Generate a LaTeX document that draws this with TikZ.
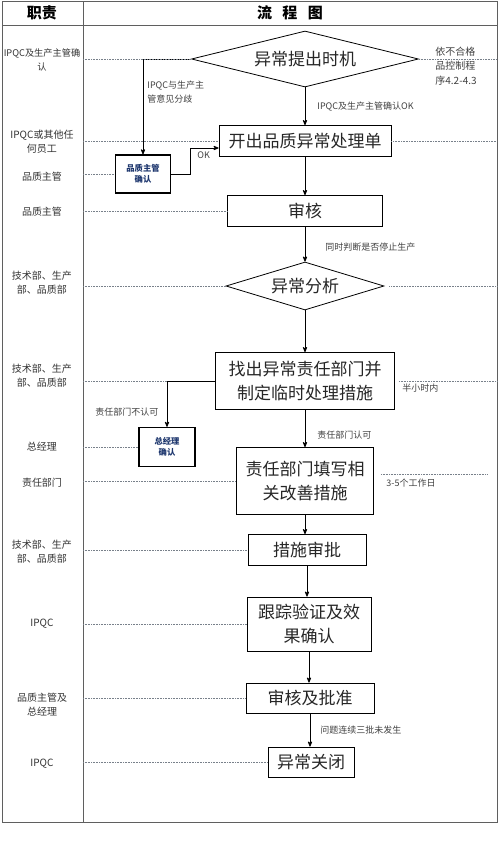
\documentclass[tikz,border=0pt]{standalone}
\usepackage{fontspec}
\setmainfont{Noto Sans CJK SC}
\usepackage{tikz}
\usetikzlibrary{arrows,shapes.geometric}
\definecolor{boxblue}{RGB}{30,55,110}
\definecolor{framegray}{RGB}{95,95,95}
\definecolor{dotgray}{RGB}{120,128,138}

\begin{document}
\begin{tikzpicture}[->,>=stealth',x=1pt,y=-1pt,line width=0.8pt,
  main node/.style={draw,rectangle,inner sep=0pt,align=center,text=black!85,font=\fontsize{17}{24}\selectfont},
  choice node/.style={draw,diamond,aspect=4,inner sep=0pt,text=black!85,font=\fontsize{17}{24}\selectfont},
  check node/.style={draw,rectangle,line width=1.3pt,minimum width=55pt,minimum height=38pt,align=center,text=boxblue,font=\fontsize{8.3}{11}\selectfont\bfseries},
  duty node/.style={align=center,text=black!80,font=\fontsize{10}{14}\selectfont},
  row line/.style={-,densely dotted,dotgray,line width=0.6pt}]
  \tikzset{LabelStyle/.style = {anchor=west,align=left,inner sep=0pt,text=black!75,font=\fontsize{9}{14}\selectfont}}

  \useasboundingbox (0,0) rectangle (500,860);
  \draw[-,framegray] (2,1) rectangle (497,822);
  \draw[-,framegray] (2,25) -- (497,25);
  \draw[-,framegray] (83,1) -- (83,822);
  \coordinate (col) at (83,0);
  \coordinate (rim) at (497,0);

  % header
  \node[font=\fontsize{15}{15}\selectfont\bfseries] (h1) at (42,13) {职责};
  \node[font=\fontsize{15}{15}\selectfont\bfseries] (h2) at (290,13) {流\hspace{0.7em}程\hspace{0.7em}图};

  % duties
  \node[duty node,font=\fontsize{9.2}{14}\selectfont] (r1) at (42,60) {IPQC及生产主管确\\认};
  \node[duty node] (r2) at (42,142) {IPQC或其他任\\何员工};
  \node[duty node] (r3) at (42,177) {品质主管};
  \node[duty node] (r4) at (42,212) {品质主管};
  \node[duty node] (r5) at (42,283) {技术部、生产\\部、品质部};
  \node[duty node] (r6) at (42,376) {技术部、生产\\部、品质部};
  \node[duty node] (r7) at (42,447) {总经理};
  \node[duty node] (r8) at (42,483) {责任部门};
  \node[duty node] (r9) at (42,552) {技术部、生产\\部、品质部};
  \node[duty node] (r10) at (42,624) {IPQC};
  \node[duty node] (r11) at (42,705) {品质主管及\\总经理};
  \node[duty node] (r12) at (42,764) {IPQC};

  % flow
  \node[choice node,minimum width=227pt,minimum height=56pt] (d1) at (305,59) {异常提出时机};
  \node[main node,minimum width=172pt,minimum height=31pt] (b1) at (305,141) {开出品质异常处理单};
  \node[check node] (c1) at (143,174) {品质主管\\确认};
  \node[main node,minimum width=155pt,minimum height=31pt] (b2) at (305,211) {审核};
  \node[choice node,minimum width=158pt,minimum height=48pt] (d2) at (305,286) {异常分析};
  \node[main node,minimum width=179pt,minimum height=57pt] (b3) at (305,381) {找出异常责任部门并\\制定临时处理措施};
  \node[check node,minimum width=56pt,minimum height=39pt] (c2) at (167,447) {总经理\\确认};
  \node[main node,minimum width=137pt,minimum height=67pt] (b4) at (305,481) {责任部门填写相\\关改善措施};
  \node[main node,minimum width=118pt,minimum height=31pt] (b5) at (307,550) {措施审批};
  \node[main node,minimum width=124pt,minimum height=54pt] (b6) at (309,624) {跟踪验证及效\\果确认};
  \node[main node,minimum width=128pt,minimum height=30pt] (b7) at (310,698) {审核及批准};
  \node[main node,minimum width=86pt,minimum height=30pt] (b8) at (311,762) {异常关闭};

  \path
    (d1) edge node[LabelStyle,xshift=12pt] {IPQC及生产主管确认OK} (b1)
    (b1) edge (b2)
    (b2) edge node[LabelStyle,xshift=20pt,yshift=-3pt] {同时判断是否停止生产} (d2)
    (d2) edge (b3)
    (b3) edge node[LabelStyle,xshift=12pt,yshift=-7pt] {责任部门认可} (b4)
    (b4.south) edge (b4.south |- b5.north)
    (b5.south) edge (b5.south |- b6.north)
    (b6.south) edge (b6.south |- b7.north)
    (b7.south) edge node[LabelStyle,xshift=10pt] {问题连续三批未发生} (b7.south |- b8.north);

  % side branches
  \draw (d1.west) -| (c1.north);
  \node[LabelStyle] (n1) at (147,92) {IPQC与生产主\\管意见分歧};
  \draw (c1.east) -- ++(19,0) |- ([yshift=-7pt]b1.west);
  \node[LabelStyle] (n2) at (197,155) {OK};
  \draw (b3.west) -| (c2.north);
  \node[LabelStyle] (n3) at (95,412) {责任部门不认可};

  % notes on the right
  \node[LabelStyle,font=\fontsize{10}{14.5}\selectfont] (n4) at (435,66) {依不合格\\品控制程\\序4.2-4.3};
  \node[LabelStyle] (n5) at (402,388) {半小时内};
  \node[LabelStyle] (n6) at (386,483) {3-5个工作日};

  % row guides
  \draw[row line] (col |- d1.west) -- (d1.west);
  \draw[row line] (d1.east) -- (rim |- d1.east);
  \draw[row line] (col |- b1.west) -- (b1.west);
  \draw[row line] (b1.east) -- (rim |- b1.east);
  \draw[row line] (col |- c1.west) -- (c1.west);
  \draw[row line] (col |- b2.west) -- (b2.west);
  \draw[row line] (col |- d2.west) -- (d2.west);
  \draw[row line] ([xshift=5pt]d2.east) -- (rim |- d2.east);
  \draw[row line] (col |- b3.west) -- (c2.north |- b3.west);
  \draw[row line] ([xshift=4pt]b3.east) -- (rim |- b3.east);
  \draw[row line] (col |- c2.west) -- (c2.west);
  \draw[row line] (col |- b4.west) -- (b4.west);
  \draw[row line] ([xshift=7pt,yshift=7pt]b4.east) -- ++(106,0);
  \draw[row line] (col |- b5.west) -- (b5.west);
  \draw[row line] (col |- b6.west) -- (b6.west);
  \draw[row line] (col |- b7.west) -- (b7.west);
  \draw[row line] (col |- b8.west) -- (b8.west);
\end{tikzpicture}
\end{document}
